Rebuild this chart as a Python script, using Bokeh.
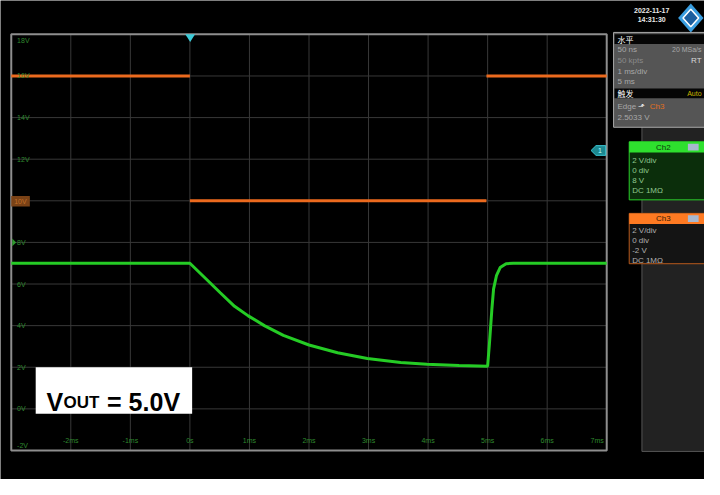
import math
from bokeh.plotting import figure
from bokeh.models import Range1d
from bokeh.core.properties import value
from bokeh.embed import file_html
from bokeh.resources import INLINE

# ---------------- data ----------------
time_ticks_ms = [-3, -2, -1, 0, 1, 2, 3, 4, 5, 6, 7]
time_tick_labels = ["", "-2ms", "-1ms", "0s", "1ms", "2ms", "3ms", "4ms", "5ms", "6ms", "7ms"]
volt_ticks = [18, 16, 14, 12, 10, 8, 6, 4, 2, 0, -2]
volt_tick_labels = ["18V", "16V", "14V", "12V", "10V", "8V", "6V", "4V", "2V", "0V", "-2V"]

# Ch2 (green, VOUT) in volts vs time in ms
ch2_t = [-3.0, 0.0, 0.26, 0.51, 0.75, 0.98, 1.25, 1.57, 2.0, 2.48, 2.98, 3.54, 3.98, 4.52,
         5.0, 5.03, 5.07, 5.10, 5.15, 5.21, 5.31, 5.43, 7.0]
ch2_v = [7.0, 7.0, 6.28, 5.58, 4.93, 4.47, 4.0, 3.53, 3.07, 2.70, 2.42, 2.23, 2.14, 2.09,
         2.05, 3.12, 4.74, 5.77, 6.42, 6.79, 6.98, 7.0, 7.0]

# Ch3 (orange, enable) in its own volts (2 V/div, offset -2 V)
nan = float("nan")
ch3_t = [-3.0, 0.0, nan, 0.0, 4.98, nan, 4.98, 7.0]
ch3_v = [6.0, 6.0, nan, 0.0, 0.0, nan, 6.0, 6.0]

# ---------------- geometry helpers (reference pixel -> data) ----------------
PX_PER_MS = 60.9
PX_PER_V = 21.5


def X(px):
    return -3 + (px - 11) / PX_PER_MS


def Y(py):
    return 18 - (py - 35) / PX_PER_V


p = figure(width=704, height=479, x_range=Range1d(X(0), X(720)), y_range=Range1d(Y(495), Y(0)),
           output_backend="svg", toolbar_location=None, x_axis_location=None, y_axis_location=None,
           min_border=0, background_fill_color="black", border_fill_color="black",
           outline_line_color=None)
p.xgrid.visible = False
p.ygrid.visible = False
p.extra_y_ranges = {"ch3": Range1d(Y(495) - 10, Y(0) - 10)}

FONT = value("Liberation Sans")
CJK = value("Noto Sans CJK SC")


def txt(px, py, s, color, size=8, align="left", baseline="middle", bold=False, font=FONT):
    p.text(x=[X(px)], y=[Y(py)], text=[s], text_color=color, text_font_size=value(f"{size}px"),
           text_align=align, text_baseline=baseline, text_font=font,
           text_font_style="bold" if bold else "normal")


def box(l, t, r, b, fill, line=None, lw=1):
    p.quad(left=[X(l)], right=[X(r)], top=[Y(t)], bottom=[Y(b)], fill_color=fill,
           line_color=line, line_width=lw)


# ---------------- graticule ----------------
t_in = time_ticks_ms[1:-1]
v_in = volt_ticks[1:-1]
p.segment(x0=t_in, x1=t_in, y0=[volt_ticks[-1]] * len(t_in), y1=[volt_ticks[0]] * len(t_in),
          line_color="#383838", line_width=1)
p.segment(x0=[time_ticks_ms[0]] * len(v_in), x1=[time_ticks_ms[-1]] * len(v_in), y0=v_in, y1=v_in,
          line_color="#383838", line_width=1)
p.quad(left=[time_ticks_ms[0]], right=[time_ticks_ms[-1]], top=[volt_ticks[0]], bottom=[volt_ticks[-1]],
       fill_color=None, line_color="#8e8e8e", line_width=2)

# ---------------- traces ----------------
p.line(ch3_t, ch3_v, y_range_name="ch3", line_color="#ec6a1e", line_width=3)
p.line(ch2_t, ch2_v, line_color="#25cc25", line_width=3)

# ---------------- tick labels inside graticule ----------------
lab_green = "#2f8a2f"
for v, s in zip(volt_ticks, volt_tick_labels):
    if v == volt_ticks[0]:
        baseline, yy = "top", volt_ticks[0] - 3 / PX_PER_V
    elif v == volt_ticks[-1]:
        baseline, yy = "bottom", volt_ticks[-1] + 2 / PX_PER_V
    else:
        baseline, yy = "middle", v
    p.text(x=[time_ticks_ms[0] + 6 / PX_PER_MS], y=[yy], text=[s], text_color=lab_green,
           text_font_size=value("7px"), text_align="left", text_baseline=baseline, text_font=FONT)
for t, s in zip(time_ticks_ms, time_tick_labels):
    if not s:
        continue
    align = "right" if t == time_ticks_ms[-1] else "center"
    xx = t - 3 / PX_PER_MS if t == time_ticks_ms[-1] else t
    p.text(x=[xx], y=[volt_ticks[-1] + 10 / PX_PER_V], text=[s], text_color=lab_green,
           text_font_size=value("7px"), text_align=align, text_baseline="middle", text_font=FONT)

# channel markers on the left
box(11, 202, 30, 213, "#7a4216")
txt(14, 207.5, "10V", "#c0702a", size=7)
p.patch([X(12), X(16), X(12)], [Y(246), Y(250), Y(254)], fill_color="#2f9a2f", line_color=None)

# trigger markers (cyan)
p.patch([X(189), X(199), X(194)], [Y(35), Y(35), Y(43)], fill_color="#3ccbd8", line_color=None)
p.patch([X(604), X(609), X(619), X(619), X(609)], [Y(155), Y(150), Y(150), Y(160), Y(160)],
        fill_color="#1c8890", line_color="#3ccbd8")
txt(611, 155, "1", "#bff", size=7)

# ---------------- VOUT label ----------------
box(36, 379, 196, 427, "white")
BOLD = value("Liberation Sans")
p.text(x=[X(47)], y=[Y(415)], text=["V"], text_color="black", text_font_size=value("25px"),
       text_font=BOLD, text_font_style="bold", text_baseline="alphabetic")
p.text(x=[X(64.5)], y=[Y(415)], text=["OUT"], text_color="black", text_font_size=value("17px"),
       text_font=BOLD, text_font_style="bold", text_baseline="alphabetic")
p.text(x=[X(109)], y=[Y(415)], text=["= 5.0V"], text_color="black", text_font_size=value("25px"),
       text_font=BOLD, text_font_style="bold", text_baseline="alphabetic")

# ---------------- right info panel ----------------
box(656, 130, 721, 466, "#222222", "#555555")
txt(666, 10, "2022-11-17", "#e8e8e8", size=7, align="center", bold=True)
txt(666, 20, "14:31:30", "#e8e8e8", size=7, align="center", bold=True)
# logo
cx, cy = 706, 18
p.patch([X(cx), X(cx + 13), X(cx), X(cx - 13)], [Y(cy - 15), Y(cy), Y(cy + 15), Y(cy)],
        fill_color="#3a9ee0", line_color=None)
p.patch([X(cx), X(cx + 8), X(cx), X(cx - 8)], [Y(cy - 9), Y(cy), Y(cy + 9), Y(cy)],
        fill_color="#1b5e9e", line_color="white", line_width=1.5)

# horizontal / trigger settings box
box(627, 33, 721, 131, "#555555", "#a8a8a8")
box(628, 35, 721, 45, "#050505")
txt(631, 40, "水平", "#ffffff", size=8, font=CJK)
txt(631, 51, "50 ns", "#a8a8a8")
txt(717, 51, "20 MSa/s", "#a8a8a8", size=7, align="right")
txt(631, 62, "50 kpts", "#8a8a8a")
txt(717, 62, "RT", "#d8d8d8", align="right")
txt(631, 73, "1 ms/div", "#a8a8a8")
txt(631, 84, "5 ms", "#a8a8a8")
box(628, 91, 721, 101, "#050505")
txt(631, 96, "触发", "#ffffff", size=8, font=CJK)
txt(717, 96, "Auto", "#c8b400", size=7, align="right")
txt(631, 110, "Edge", "#a8a8a8")
txt(652, 110, "⬏", "#ffffff")
txt(664, 110, "Ch3", "#e07020")
txt(631, 121, "2.5033 V", "#a8a8a8")

# Ch2 box
box(643, 146, 721, 206, "#0b2e0b", "#2ad02a")
box(643, 146, 721, 157, "#2ee02e")
txt(678, 151.5, "Ch2", "#0a3a0a", size=8, align="center")
box(703, 148, 714, 155, "#a8b8d0")
for i, s in enumerate(["2 V/div", "0 div", "8 V", "DC 1MΩ"]):
    txt(646, 165 + 10.3 * i, s, "#8fc88f", size=8)

# Ch3 box
box(643, 220, 721, 272, "#141414", "#b85a1c")
box(643, 220, 721, 231, "#ff7a22")
txt(678, 225.5, "Ch3", "#3a1a05", size=8, align="center")
box(703, 222, 714, 229, "#a8b8d0")
for i, s in enumerate(["2 V/div", "0 div", "-2 V", "DC 1MΩ"]):
    txt(646, 238 + 10.3 * i, s, "#b0b0b0", size=8)

open("out.html", "w").write(file_html(p, INLINE))
